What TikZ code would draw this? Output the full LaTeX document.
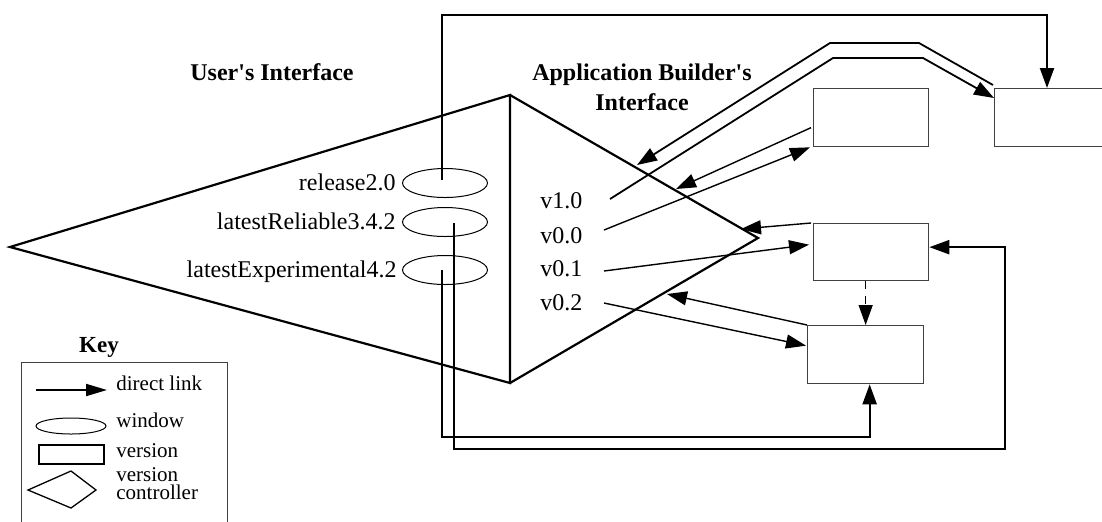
\documentclass[tikz,border=0pt]{standalone}
\usepackage{fontspec}
\setmainfont{Liberation Serif}
\usetikzlibrary{arrows.meta,shapes.geometric}

\tikzset{
  lbl/.style={font=\fontsize{12}{15}\selectfont, inner sep=0pt},
  ttl/.style={font=\fontsize{12}{15}\selectfont\bfseries, inner sep=0pt},
  keylbl/.style={font=\fontsize{10.5}{8.6}\selectfont, inner sep=0pt, align=left},
  vbox/.style={rectangle, draw=black!75, line width=0.65pt, minimum width=57.5pt,
               minimum height=29pt, inner sep=0pt, anchor=north west},
  win/.style={ellipse, draw, line width=0.5pt, minimum width=42.5pt,
              minimum height=14.5pt, inner sep=0pt},
  ctrl/.style={line width=1.1pt, line join=miter},
  arr/.style={-{Triangle[length=10pt,width=7pt]}},
  wlink/.style={arr, line width=1.1pt},
  blink/.style={arr, line width=0.9pt},
  vlink/.style={arr, line width=0.7pt},
}

\begin{document}
\begin{tikzpicture}[x=0.5pt,y=-0.5pt]
  \useasboundingbox (0,0) rectangle (1102,521);
  \fill[white] (0,0) rectangle (1102,521);
  \clip (0,0) rectangle (1102,521);

  % titles
  \node[ttl, anchor=base] (tUser) at (272,80) {User\textquotesingle s Interface};
  \node[ttl, anchor=base] (tApp) at (642,80)
    {\begin{tabular}[t]{@{}c@{}}Application Builder\textquotesingle s\\Interface\end{tabular}};

  % version controller: user's side and builder's side
  \coordinate (tL) at (10,247);
  \coordinate (tT) at (510,95);
  \coordinate (tB) at (510,383);
  \coordinate (tR) at (758,238);
  \draw[ctrl] (tT) -- (tL) -- (tB) -- cycle;
  \draw[ctrl] (tT) -- (tR) -- (tB);

  % windows
  \node[win] (winR) at (445,183) {};
  \node[win] (winL) at (445,222) {};
  \node[win] (winE) at (445,270) {};
  \node[lbl, anchor=base east] (lR) at (396,190) {release2.0};
  \node[lbl, anchor=base east] (lL) at (396,229) {latestReliable3.4.2};
  \node[lbl, anchor=base east] (lE) at (397,277) {latestExperimental4.2};

  % version names
  \node[lbl, anchor=base west] (v10) at (540,208) {v1.0};
  \node[lbl, anchor=base west] (v00) at (540,243) {v0.0};
  \node[lbl, anchor=base west] (v01) at (540,276) {v0.1};
  \node[lbl, anchor=base west] (v02) at (540,310) {v0.2};

  % versions
  \node[vbox] (bxA) at (813,88) {};
  \node[vbox] (bxB) at (994,88) {};
  \node[vbox, minimum height=28.5pt] (bxC) at (813,223) {};
  \node[vbox, minimum width=58pt] (bxD) at (807,325) {};

  % line ends near the version names and on the controller's edge
  \coordinate (v10s) at (610,199);
  \coordinate (v00s) at (604,230);
  \coordinate (v01s) at (604,271);
  \coordinate (v02s) at (604,303);
  \coordinate (tipB) at (637,165);
  \coordinate (tipA) at (676,189);
  \coordinate (tipC) at (741,229);
  \coordinate (tipD) at (667,294);

  % window links
  \draw[wlink] ([shift={(-3,-3)}]winR.center) -- (442,15)
               -| ([xshift=26.5pt]bxB.north west);
  \draw[wlink] ([shift={(9,1)}]winL.center) |- (1005,449)
               |- ([yshift=2.5pt]bxC.east);
  \draw[wlink] ([shift={(-3,0)}]winE.center) -- (442,437)
               -| ([xshift=2pt]bxD.south);

  % links between the controller and the versions
  \draw[blink] (v10s) -- (833,58) -- (923,58) -- ([yshift=-5pt]bxB.north west);
  \draw[blink] ([shift={(-1,-3)}]bxB.north west) -- (919,43) -- (830,43) -- (tipB);
  \draw[vlink] (v00s) -- ([xshift=-1.5pt]bxA.south west);
  \draw[vlink] ([shift={(-2,10)}]bxA.west) -- (tipA);
  \draw[vlink] ([shift={(-2,0)}]bxC.north west) -- (tipC);
  \draw[vlink] (v01s) -- ([shift={(-4,-7.5)}]bxC.west);
  \draw[vlink] (v02s) -- ([shift={(-1,-9)}]bxD.west);
  \draw[vlink] (bxD.north west) -- (tipD);
  \draw[vlink, dash pattern=on 4pt off 3.5pt] (bxC.south -| bxD.north) -- (bxD.north);

  % key
  \node[ttl, font=\fontsize{11.5}{14}\selectfont\bfseries, anchor=base] (keyT) at (99,352) {Key};
  \node[rectangle, draw=black!75, line width=0.65pt, minimum width=103pt,
        minimum height=95pt, inner sep=0pt, anchor=north west] (keyBox) at (21,362) {};
  \coordinate (ka1) at (36,390);
  \coordinate (ka2) at (107,390);
  \draw[-{Triangle[length=10.5pt,width=6pt]}, line width=1pt] (ka1) -- (ka2);
  \node[win, minimum width=35pt, minimum height=8pt] (kWin) at (71,426) {};
  \node[rectangle, draw, line width=0.6pt, minimum width=32.5pt, minimum height=9.5pt,
        inner sep=0pt] (kVer) at (71.5,454.5) {};
  \draw[line width=0.65pt] (28,490) -- (71,471) -- (96,490) -- (71,508) -- cycle;
  \node[keylbl, anchor=base west] (kl1) at (116,390) {direct link};
  \node[keylbl, anchor=base west] (kl2) at (116,427) {window};
  \node[keylbl, anchor=base west] (kl3) at (116,457) {version};
  \node[keylbl, anchor=base west] (kl4) at (116,499) {version\\controller};
\end{tikzpicture}
\end{document}
